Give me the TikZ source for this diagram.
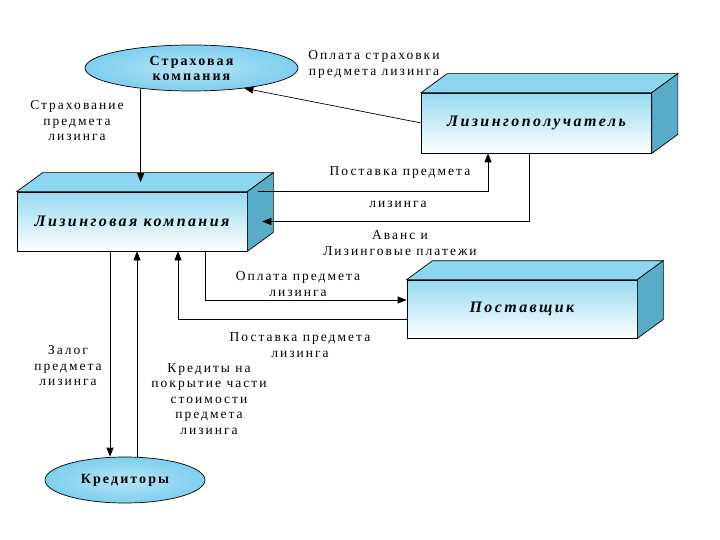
\documentclass[tikz,border=0pt]{standalone}
\usepackage{fontspec}
\setmainfont{Liberation Serif}
\newfontfamily\lblfont[LetterSpace=15]{Liberation Serif}
\usetikzlibrary{arrows.meta, shapes.geometric}

\definecolor{skytop}{RGB}{140,214,240}
\definecolor{skyside}{RGB}{88,172,200}
\definecolor{skyfront}{RGB}{150,218,242}
\definecolor{skyoval}{RGB}{125,207,238}

\begin{document}
\begin{tikzpicture}[x=1pt, y=-1pt, line width=0.7pt,
    front/.style={draw, rectangle, top color=skyfront, bottom color=white, minimum width=230pt, minimum height=59pt, font=\lblfont\bfseries\itshape\fontsize{16}{18}\selectfont},
    oval/.style={draw, ellipse, inner sep=0pt, inner color=skyoval!55, outer color=skyoval, align=center, font=\lblfont\bfseries\fontsize{14}{15}\selectfont},
    arr/.style={-{Triangle[length=9pt, width=7pt]}},
    lbl/.style={align=center, inner sep=0pt, font=\lblfont\fontsize{13.5}{15.5}\selectfont}]
        \useasboundingbox (0,0) rectangle (720,540);

        % Ovals
        \node[oval, minimum width=213pt, minimum height=46pt] (sk) at (191.5,68) {Страховая\\компания};
        \node[oval, minimum width=160pt, minimum height=46pt] (kr) at (125,480) {Кредиторы};

        % Boxes
        \node[front] (lk) at (132,221.5) {Лизинговая компания};
        \node[front, minimum height=60pt] (lp) at (536.5,123) {Лизингополучатель};
        \node[front, minimum height=58pt] (ps) at (522,309) {Поставщик};
        \foreach \b in {lk, lp, ps} {
            \filldraw[fill=skytop] (\b.north west) -- ++(26,-19) -- ([shift={(26,-19)}]\b.north east) -- (\b.north east) -- cycle;
            \filldraw[fill=skyside] (\b.north east) -- ++(26,-19) -- ([shift={(26,-19)}]\b.south east) -- (\b.south east) -- cycle;
        }
        \coordinate (lk top) at ([shift={(6,-9.5)}]lk.north);

        % Insurance
        \draw[arr] (lp.west) -- (sk.-21);
        \node[lbl] (t1) at (374,64.5) {Оплата страховки\\предмета лизинга};
        \draw[arr] (sk.202) -- (sk.202 |- lk top);
        \node[lbl] (t2) at (77,121) {Страхование\\предмета\\лизинга};

        % Lessee
        \draw[arr] ([xshift=11pt]lk.north east) -| ([xshift=-48.5pt]lp.south);
        \node[lbl] (t3) at (400,173) {Поставка предмета};
        \node[lbl] (t4) at (398,204) {лизинга};
        \draw[arr] ([xshift=-7.5pt]lp.south) |- ([xshift=15pt]lk.east);
        \node[lbl] (t5) at (400,243) {Аванс и\\Лизинговые платежи};

        % Supplier
        \draw[arr] ([xshift=73pt]lk.south) |- ([yshift=9pt]ps.west);
        \node[lbl] (t6) at (298,284) {Оплата предмета\\лизинга};
        \draw[arr] ([yshift=-10pt]ps.west) -| ([xshift=46pt]lk.south);
        \node[lbl] (t7) at (300,345) {Поставка предмета\\лизинга};

        % Creditors
        \draw[arr] ([xshift=-22pt]lk.south) -- ([xshift=-22pt]lk.south |- kr.north);
        \node[lbl] (t8) at (68,366) {Залог\\предмета\\лизинга};
        \draw[arr] ([xshift=5pt]lk.south |- kr.north) -- ([xshift=5pt]lk.south);
        \node[lbl] (t9) at (209,399) {Кредиты на\\покрытие части\\стоимости\\предмета\\лизинга};
    \end{tikzpicture}
\end{document}
